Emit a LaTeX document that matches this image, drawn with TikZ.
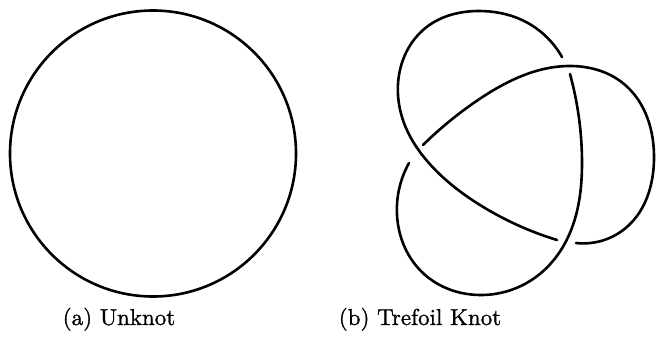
\documentclass[tikz,border=0pt]{standalone}
\usepackage{fontspec}
\newfontfamily\capfont[BoldFont=lmroman10-regular.otf,BoldFeatures={FakeBold=1.2}]{lmroman10-regular.otf}
\usetikzlibrary{hobby}
\begin{document}
\begin{tikzpicture}[x=1pt,y=-1pt,
  knotline/.style={line width=2.6pt,line cap=round,line join=round},
  caption/.style={font=\capfont\bfseries\fontsize{23}{27}\selectfont,anchor=base,inner sep=0pt}]
\useasboundingbox (0,0) rectangle (657,341);
% unknot
\node[draw,circle,line width=2.6pt,minimum size=286pt,inner sep=0pt] (unknot) at (153,153.5) {};
% trefoil strands
\coordinate (a1) at (562,57);
\coordinate (a2) at (557,240);
\coordinate (b1) at (423,145);
\coordinate (b2) at (576,243);
\coordinate (c1) at (570,74);
\coordinate (c2) at (409,163);
\draw[knotline] (a1) to[curve through={(522,20) (478,11) (428,26) (399,75) (406,128) (428,162) (480,205)}] (a2);
\draw[knotline] (b1) to[curve through={(478,100) (568,66) (624,84) (654,160) (628,226)}] (b2);
\draw[knotline] (c1) to[curve through={(582,160) (564,245) (530,281) (480,295) (424,274) (397,215)}] (c2);
% captions
\node[caption] (capa) at (119,325) {(a) Unknot};
\node[caption] (capb) at (420,325) {(b) Trefoil Knot};
\end{tikzpicture}
\end{document}
